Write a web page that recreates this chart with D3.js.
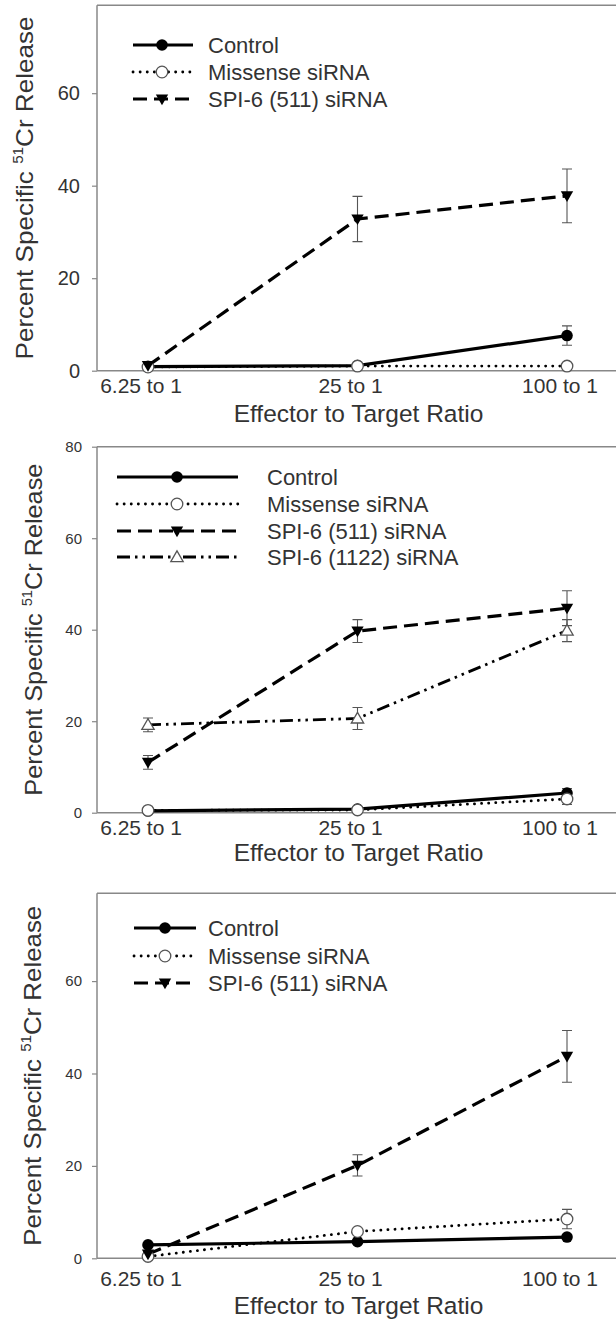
<!DOCTYPE html>
<html><head><meta charset="utf-8">
<script src="https://cdn.jsdelivr.net/npm/d3@7"></script>
<style>
html,body{margin:0;padding:0;background:#fff;}
svg text{font-family:"Liberation Sans",Arial,sans-serif;fill:#333;}
</style></head>
<body>
<svg id="chart" width="616" height="1323"></svg>
<script>
// ---------- data ----------
const categories = ["6.25 to 1", "25 to 1", "100 to 1"];
const seriesNames = ["Control", "Missense siRNA", "SPI-6 (511) siRNA", "SPI-6 (1122) siRNA"];

// Panel A
const aControl = [0.9, 1.1, 7.6];
const aControlErr = [0, 0, 2.1];
const aMissense = [0.8, 1.0, 1.0];
const aMissenseErr = [0, 0, 0];
const aSpi511 = [1.1, 32.8, 37.8];
const aSpi511Err = [0, 4.9, 5.8];
const aTicks = [0, 20, 40, 60];

// Panel B
const bControl = [0.4, 0.8, 4.3];
const bControlErr = [0, 0, 1.0];
const bMissense = [0.5, 0.6, 3.0];
const bMissenseErr = [0, 0, 1.2];
const bSpi511 = [11.0, 39.7, 44.7];
const bSpi511Err = [1.5, 2.5, 3.8];
const bSpi1122 = [19.2, 20.6, 39.8];
const bSpi1122Err = [1.5, 2.4, 2.4];
const bTicks = [0, 20, 40, 60, 80];

// Panel C
const cControl = [2.9, 3.6, 4.6];
const cControlErr = [0.3, 0.3, 0.5];
const cMissense = [0.4, 5.8, 8.5];
const cMissenseErr = [0.4, 0.5, 2.1];
const cSpi511 = [0.9, 20.1, 43.7];
const cSpi511Err = [0.5, 2.3, 5.6];
const cTicks = [0, 20, 40, 60];

// ---------- styles ----------
const styles = {
  "Control":            {dash: null, width: 3.2, cap: "butt", marker: "circle", fill: "#000", stroke: "#000"},
  "Missense siRNA":     {dash: "0.1 7", width: 2.8, cap: "round", marker: "circle", fill: "#fff", stroke: "#555"},
  "SPI-6 (511) siRNA":  {dash: "14 7", width: 3.2, cap: "butt", marker: "down", fill: "#000", stroke: "#000"},
  "SPI-6 (1122) siRNA": {dash: "13 5 2.5 5 2.5 5", width: 2.8, cap: "butt", marker: "up", fill: "#fff", stroke: "#555"}
};

const panels = [
  {top: 5.3, bottom: 370.7, yMax: 79, ticks: aTicks, tickFont: 20, tickPad: 12, labelY: 393, titleY: 422, yTitleX: 33, yTitleLen: 343,
   legend: {x1: 133, x2: 193, xm: 162, tx: 208, rows: [45, 72, 99]},
   series: [
     {name: "Control", v: aControl, e: aControlErr},
     {name: "Missense siRNA", v: aMissense, e: aMissenseErr},
     {name: "SPI-6 (511) siRNA", v: aSpi511, e: aSpi511Err}]},
  {top: 446.7, bottom: 812.7, yMax: 80, ticks: bTicks, tickFont: 15, tickPad: 10, labelY: 835, titleY: 861, yTitleX: 42, yTitleLen: 332,
   legend: {x1: 117, x2: 238, xm: 177, tx: 267, rows: [477, 504, 531, 557]},
   series: [
     {name: "Control", v: bControl, e: bControlErr},
     {name: "Missense siRNA", v: bMissense, e: bMissenseErr},
     {name: "SPI-6 (511) siRNA", v: bSpi511, e: bSpi511Err},
     {name: "SPI-6 (1122) siRNA", v: bSpi1122, e: bSpi1122Err}]},
  {top: 893.3, bottom: 1258.3, yMax: 79, ticks: cTicks, tickFont: 15, tickPad: 10, labelY: 1286, titleY: 1314, yTitleX: 41, yTitleLen: 340,
   legend: {x1: 134, x2: 196, xm: 165, tx: 208, rows: [928, 956, 983]},
   series: [
     {name: "Control", v: cControl, e: cControlErr},
     {name: "Missense siRNA", v: cMissense, e: cMissenseErr},
     {name: "SPI-6 (511) siRNA", v: cSpi511, e: cSpi511Err}]}
];

const svg = d3.select("#chart");
const left = 97, right = 616;
const x = d3.scalePoint().domain(categories).range([148, 567]);

const tri = d3.symbol().type(d3.symbolTriangle).size(66);

function drawMarker(g, kind, cx, cy, st) {
  if (kind === "circle") {
    g.append("circle").attr("cx", cx).attr("cy", cy).attr("r", 5.8)
      .attr("fill", st.fill).attr("stroke", st.stroke).attr("stroke-width", st.fill === "#fff" ? 1.3 : 0);
  } else {
    const rot = kind === "down" ? 180 : 0;
    const dy = kind === "down" ? -1 : 1;
    g.append("path").attr("d", tri())
      .attr("transform", `translate(${cx},${cy + dy}) rotate(${rot})`)
      .attr("fill", st.fill).attr("stroke", st.stroke).attr("stroke-width", st.fill === "#fff" ? 1.3 : 0);
  }
}

panels.forEach(p => {
  const y = d3.scaleLinear().domain([0, p.yMax]).range([p.bottom, p.top]);
  const g = svg.append("g");

  // frame
  g.append("line").attr("x1", left).attr("x2", right).attr("y1", p.top).attr("y2", p.top)
    .attr("stroke", "#888").attr("stroke-width", 1.5);
  const axY = d3.axisLeft(y).tickValues(p.ticks).tickSize(5).tickPadding(p.tickPad);
  const ga = g.append("g").attr("transform", `translate(${left},0)`).call(axY);
  ga.select(".domain").attr("stroke", "#888").attr("stroke-width", 1.5).attr("d", `M0,${p.top}V${p.bottom}`);
  ga.selectAll(".tick line").attr("stroke", "#888").attr("stroke-width", 1.2);
  ga.selectAll(".tick text").attr("font-size", p.tickFont).attr("font-family", "Liberation Sans, Arial, sans-serif")
    .attr("fill", p.tickFont > 16 ? "#333" : "#555");
  g.append("line").attr("x1", left).attr("x2", right).attr("y1", p.bottom).attr("y2", p.bottom)
    .attr("stroke", "#888").attr("stroke-width", 1.5);

  // x labels
  g.selectAll("text.xl").data(categories).enter().append("text")
    .attr("x", d => x(d) - 7).attr("y", p.labelY).attr("text-anchor", "middle")
    .attr("font-size", 21).text(d => d);
  g.append("text").attr("x", x(categories[1]) + 1).attr("y", p.titleY).attr("text-anchor", "middle")
    .attr("font-size", 24.5).text("Effector to Target Ratio");

  // y title
  const yt = g.append("text")
    .attr("transform", `translate(${p.yTitleX},${(p.top + p.bottom) / 2}) rotate(-90)`)
    .attr("text-anchor", "middle").attr("font-size", 24)
    .attr("textLength", p.yTitleLen).attr("lengthAdjust", "spacingAndGlyphs");
  yt.append("tspan").text("Percent Specific ");
  yt.append("tspan").attr("font-size", 14).attr("dy", -10).text("51");
  yt.append("tspan").attr("dy", 10).text("Cr Release");

  // lines
  const line = d3.line().x((d, i) => x(categories[i])).y(d => y(d));
  p.series.forEach(s => {
    const st = styles[s.name];
    g.append("path").attr("d", line(s.v)).attr("fill", "none").attr("stroke", "#000")
      .attr("stroke-width", st.width).attr("stroke-dasharray", st.dash).attr("stroke-linecap", st.cap);
  });
  // error bars
  p.series.forEach(s => {
    s.v.forEach((v, i) => {
      const e = s.e[i];
      if (!e) return;
      const cx = x(categories[i]);
      g.append("path").attr("d", `M${cx - 5},${y(v + e)}H${cx + 5}M${cx},${y(v + e)}V${y(v - e)}M${cx - 5},${y(v - e)}H${cx + 5}`)
        .attr("stroke", "#555").attr("stroke-width", 1.1).attr("fill", "none");
    });
  });
  // markers
  p.series.forEach(s => {
    const st = styles[s.name];
    s.v.forEach((v, i) => drawMarker(g, st.marker, x(categories[i]), y(v), st));
  });

  // legend
  p.series.forEach((s, i) => {
    const st = styles[s.name];
    const ry = p.legend.rows[i];
    g.append("line").attr("x1", p.legend.x1).attr("x2", p.legend.x2).attr("y1", ry).attr("y2", ry)
      .attr("stroke", "#000").attr("stroke-width", st.width).attr("stroke-dasharray", st.dash)
      .attr("stroke-linecap", st.cap);
    drawMarker(g, st.marker, p.legend.xm, ry, st);
    g.append("text").attr("x", p.legend.tx).attr("y", ry).attr("dy", "0.36em")
      .attr("font-size", 22).text(s.name);
  });
});
</script>
</body></html>
